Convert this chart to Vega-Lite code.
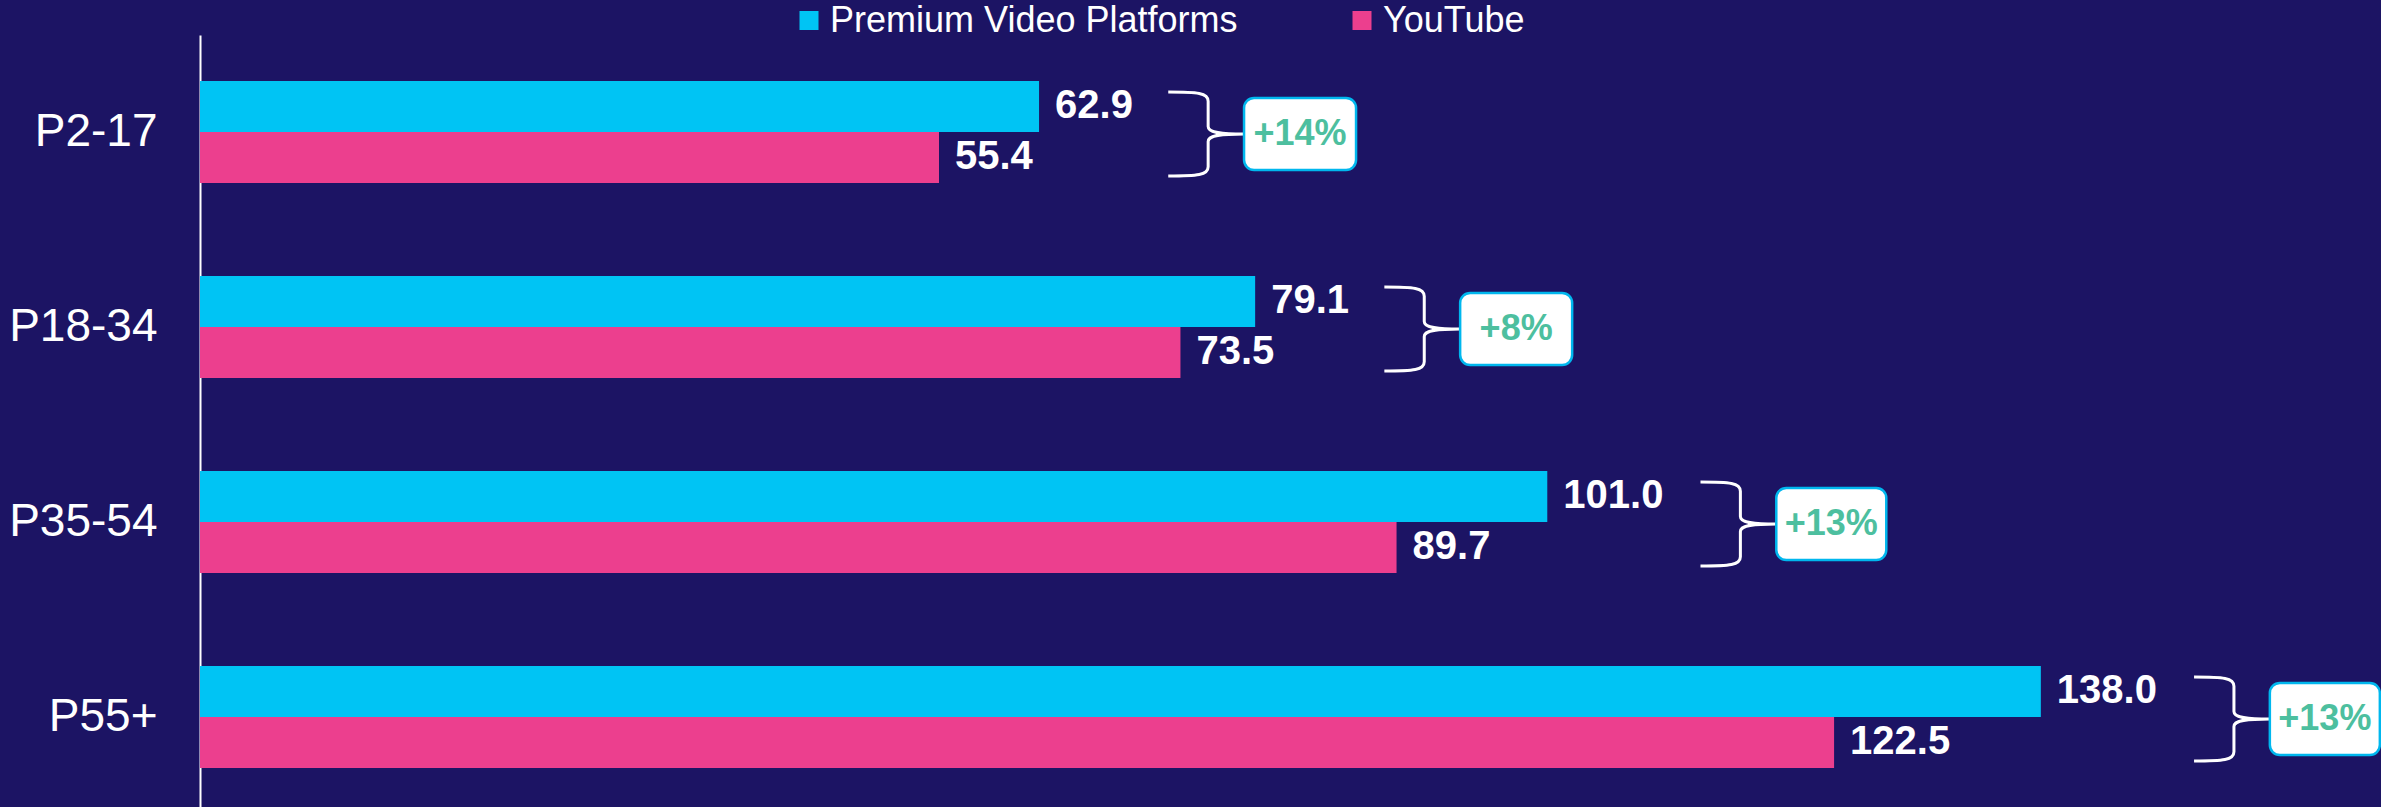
{
  "$schema": "https://vega.github.io/schema/vega-lite/v6.json",
  "width": 2181,
  "height": 772,
  "autosize": {"type": "none"},
  "padding": {"left": 200, "top": 35, "right": 0, "bottom": 0},
  "background": "#1C1464",
  "config": {"view": {"stroke": null}, "font": "Liberation Sans"},
  "datasets": {
    "bars": [
      {"age": "P2-17", "platform": "Premium Video Platforms", "minutes": 62.9},
      {"age": "P2-17", "platform": "YouTube", "minutes": 55.4},
      {"age": "P18-34", "platform": "Premium Video Platforms", "minutes": 79.1},
      {"age": "P18-34", "platform": "YouTube", "minutes": 73.5},
      {"age": "P35-54", "platform": "Premium Video Platforms", "minutes": 101.0},
      {"age": "P35-54", "platform": "YouTube", "minutes": 89.7},
      {"age": "P55+", "platform": "Premium Video Platforms", "minutes": 138.0},
      {"age": "P55+", "platform": "YouTube", "minutes": 122.5}
    ],
    "pairs": [
      {"age": "P2-17", "pvp": 62.9, "lift": "+14%"},
      {"age": "P18-34", "pvp": 79.1, "lift": "+8%"},
      {"age": "P35-54", "pvp": 101.0, "lift": "+13%"},
      {"age": "P55+", "pvp": 138.0, "lift": "+13%"}
    ]
  },
  "data": {"name": "bars"},
  "encoding": {
    "y": {
      "field": "age",
      "type": "nominal",
      "sort": ["P2-17", "P18-34", "P35-54", "P55+"],
      "scale": {"paddingInner": 0.477, "paddingOuter": 0.218, "align": 0.541},
      "axis": {
        "title": null,
        "domainColor": "white",
        "domainWidth": 2,
        "ticks": false,
        "grid": false,
        "labelColor": "white",
        "labelFontSize": 46,
        "labelFont": "Liberation Sans",
        "labelPadding": 43
      }
    }
  },
  "layer": [
    {
      "mark": {"type": "bar"},
      "encoding": {
        "x": {"field": "minutes", "type": "quantitative", "scale": {"domain": [0, 163.5], "nice": false, "zero": true}, "axis": null},
        "yOffset": {"field": "platform", "type": "nominal", "sort": ["Premium Video Platforms", "YouTube"], "scale": {"paddingInner": 0, "paddingOuter": 0}},
        "color": {
          "field": "platform",
          "type": "nominal",
          "scale": {"domain": ["Premium Video Platforms", "YouTube"], "range": ["#00C4F4", "#EC3F8E"]},
          "legend": {
            "title": null,
            "orient": "none",
            "legendX": 591,
            "legendY": -32.5,
            "direction": "horizontal",
            "symbolType": "square",
            "symbolSize": 361,
            "symbolStrokeWidth": 0,
            "symbolOffset": 0,
            "symbolOpacity": 1,
            "labelColor": "white",
            "labelFontSize": 36,
            "labelFont": "Liberation Sans",
            "labelLimit": 0,
            "labelOffset": 3,
            "columnPadding": 106,
            "padding": 0
          }
        }
      }
    },
    {
      "mark": {"type": "text", "align": "left", "baseline": "middle", "dx": 16, "fontSize": 40, "fontWeight": "bold", "color": "white"},
      "encoding": {
        "x": {"field": "minutes", "type": "quantitative"},
        "yOffset": {"field": "platform", "type": "nominal", "sort": ["Premium Video Platforms", "YouTube"]},
        "text": {"field": "minutes", "type": "quantitative", "format": ".1f"}
      }
    },
    {
      "data": {"name": "pairs"},
      "mark": {
        "type": "point",
        "shape": "M-0.9,-1 C-0.2,-1 0.05,-0.98 0.05,-0.78 L0.05,-0.18 C0.05,-0.04 0.3,0 0.9,0 C0.3,0 0.05,0.04 0.05,0.18 L0.05,0.78 C0.05,0.98 -0.2,1 -0.9,1",
        "size": 7056,
        "filled": false,
        "stroke": "white",
        "strokeWidth": 3,
        "opacity": 1,
        "xOffset": {"expr": "datum.pvp >= 100 ? 191 : 167"},
        "yOffset": 2
      },
      "encoding": {
        "x": {"field": "pvp", "type": "quantitative"}
      }
    },
    {
      "data": {"name": "pairs"},
      "mark": {
        "type": "bar",
        "size": 72,
        "cornerRadius": 10,
        "fill": "white",
        "stroke": "#00B7EE",
        "strokeWidth": 2.5,
        "xOffset": {"expr": "datum.pvp >= 100 ? 229 : 205"},
        "x2Offset": {"expr": "datum.pvp >= 100 ? 339 : 317"},
        "yOffset": 2
      },
      "encoding": {
        "x": {"field": "pvp", "type": "quantitative"},
        "x2": {"field": "pvp"}
      }
    },
    {
      "data": {"name": "pairs"},
      "mark": {
        "type": "text",
        "align": "center",
        "baseline": "middle",
        "fontSize": 36,
        "fontWeight": "bold",
        "color": "#4DBF9F",
        "xOffset": {"expr": "datum.pvp >= 100 ? 284 : 261"},
        "yOffset": 2
      },
      "encoding": {
        "x": {"field": "pvp", "type": "quantitative"},
        "text": {"field": "lift"}
      }
    }
  ]
}
